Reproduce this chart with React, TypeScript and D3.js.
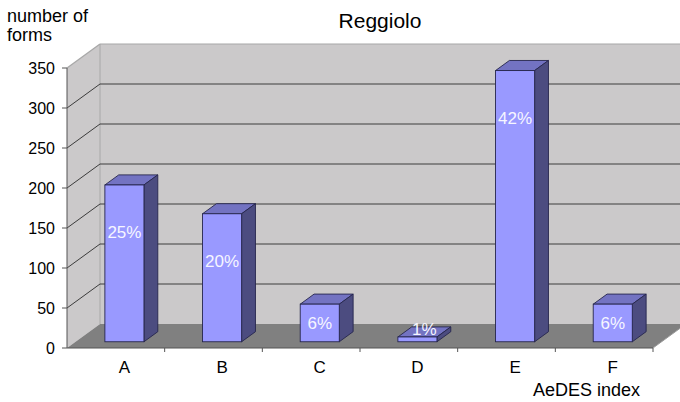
import React from "react";
import * as d3 from "d3";

const categories = ["A", "B", "C", "D", "E", "F"];
const formCounts = [196, 160, 47, 6, 339, 47];
const percentLabels = ["25%", "20%", "6%", "1%", "42%", "6%"];
const yTicks = [0, 50, 100, 150, 200, 250, 300, 350];

const W = 680;
const H = 402;
const FONT = "'Liberation Sans', Arial, Helvetica, sans-serif";

// projection geometry
const X0 = 67;
const X1 = 653;
const Y0 = 348;
const Y1 = 68;
const DX = 33;
const DY = -24;
const F1 = 0.26;
const F2 = 0.68;

export default function App() {
  const y = d3.scaleLinear().domain([0, 350]).range([Y0, Y1]);
  const x = d3
    .scaleBand<string>()
    .domain(categories)
    .range([X0, X1])
    .paddingInner(0.6)
    .paddingOuter(0.3);
  const step = x.step();
  const pts = (arr: [number, number][]) => arr.map((p) => p.join(",")).join(" ");

  const backL = X0 + DX;
  const backR = X1 + DX;

  const gridVals = yTicks.filter((v) => v > 0 && v < 350);

  return (
    <svg
      width={W}
      height={H}
      style={{ position: "absolute", left: 0, top: 0, background: "#fff" }}
      fontFamily={FONT}
    >
      {/* back wall */}
      <polygon
        points={pts([
          [backL, y(350) + DY],
          [backR, y(350) + DY],
          [backR, Y0 + DY],
          [backL, Y0 + DY],
        ])}
        fill="#cbc9ca"
      />
      {/* left wall */}
      <polygon
        points={pts([
          [X0, Y0],
          [X0, y(350)],
          [backL, y(350) + DY],
          [backL, Y0 + DY],
        ])}
        fill="#cbc9ca"
      />
      {/* wall borders */}
      <line x1={backL} x2={backR} y1={y(350) + DY} y2={y(350) + DY} stroke="#a8a8a8" strokeWidth={1.2} />
      <line x1={X0} x2={backL} y1={y(350)} y2={y(350) + DY} stroke="#a8a8a8" strokeWidth={1.2} />
      <line x1={backL} x2={backL} y1={y(350) + DY} y2={Y0 + DY} stroke="#a8a8a8" strokeWidth={1} />
      {/* gridlines */}
      {gridVals.map((v) => (
        <g key={v}>
          <line x1={backL} x2={backR} y1={y(v) + DY} y2={y(v) + DY} stroke="#3c3c3c" strokeWidth={1} />
          <line x1={X0} x2={backL} y1={y(v)} y2={y(v) + DY} stroke="#3c3c3c" strokeWidth={1} />
        </g>
      ))}
      {/* floor */}
      <polygon
        points={pts([
          [X0, Y0],
          [X1, Y0],
          [backR, Y0 + DY],
          [backL, Y0 + DY],
        ])}
        fill="#808080"
      />
      <line x1={X1} x2={backR} y1={Y0} y2={Y0 + DY} stroke="#9a9a9a" strokeWidth={1} />
      {/* axes */}
      <line x1={X0} x2={X0} y1={y(350)} y2={Y0} stroke="#555" strokeWidth={1} />
      <line x1={X0} x2={X1} y1={Y0} y2={Y0} stroke="#555" strokeWidth={1} />
      {yTicks.map((v) => (
        <g key={"t" + v}>
          <line x1={X0 - 5} x2={X0} y1={y(v)} y2={y(v)} stroke="#555" strokeWidth={1} />
          <text x={55} y={y(v) + 5.6} textAnchor="end" fontSize={16} fill="#000">
            {v}
          </text>
        </g>
      ))}
      {categories.map((c, i) => (
        <line
          key={"xt" + c}
          x1={X0 + step * (i + 1)}
          x2={X0 + step * (i + 1)}
          y1={Y0}
          y2={Y0 + 4}
          stroke="#555"
          strokeWidth={1}
        />
      ))}
      {/* bars */}
      {categories.map((c, i) => {
        const v = formCounts[i];
        const bx = (x(c) as number) + F1 * DX;
        const bw = x.bandwidth();
        const by0 = Y0 + F1 * DY;
        const byT = y(v) + F1 * DY;
        const ddx = (F2 - F1) * DX;
        const ddy = (F2 - F1) * DY;
        const stroke = "#26264d";
        return (
          <g key={"b" + c}>
            <polygon
              points={pts([
                [bx, byT],
                [bx + ddx, byT + ddy],
                [bx + bw + ddx, byT + ddy],
                [bx + bw, byT],
              ])}
              fill="#7373c2"
              stroke={stroke}
              strokeWidth={0.9}
              strokeLinejoin="round"
            />
            <polygon
              points={pts([
                [bx + bw, byT],
                [bx + bw + ddx, byT + ddy],
                [bx + bw + ddx, by0 + ddy],
                [bx + bw, by0],
              ])}
              fill="#4c4c80"
              stroke={stroke}
              strokeWidth={0.9}
              strokeLinejoin="round"
            />
            <rect
              x={bx}
              y={byT}
              width={bw}
              height={by0 - byT}
              fill="#9999ff"
              stroke={stroke}
              strokeWidth={0.9}
            />
          </g>
        );
      })}
      {/* percent labels */}
      {categories.map((c, i) => {
        const v = formCounts[i];
        const bx = (x(c) as number) + F1 * DX;
        const bw = x.bandwidth();
        const by0 = Y0 + F1 * DY;
        const byT = y(v) + F1 * DY;
        const h = by0 - byT;
        let cx = bx + bw / 2;
        let cy = byT + Math.min(h / 2, 47);
        if (h < 15) {
          cx = bx + bw / 2 + ((F2 - F1) * DX) / 2;
          cy = byT - 8;
        }
        return (
          <text key={"l" + c} x={cx} y={cy + 6} textAnchor="middle" fontSize={17} fill="#f6f6ff">
            {percentLabels[i]}
          </text>
        );
      })}
      {/* category labels */}
      {categories.map((c) => (
        <text
          key={"c" + c}
          x={(x(c) as number) + x.bandwidth() / 2 + F1 * DX}
          y={373}
          textAnchor="middle"
          fontSize={17}
          fill="#000"
        >
          {c}
        </text>
      ))}
      {/* titles */}
      <text x={380} y={28} textAnchor="middle" fontSize={21} fill="#000">
        Reggiolo
      </text>
      <text x={7} y={21.5} fontSize={18} fill="#000">
        number of
      </text>
      <text x={7} y={41} fontSize={18} fill="#000">
        forms
      </text>
      <text x={533} y={396} fontSize={18} fill="#000">
        AeDES index
      </text>
    </svg>
  );
}
